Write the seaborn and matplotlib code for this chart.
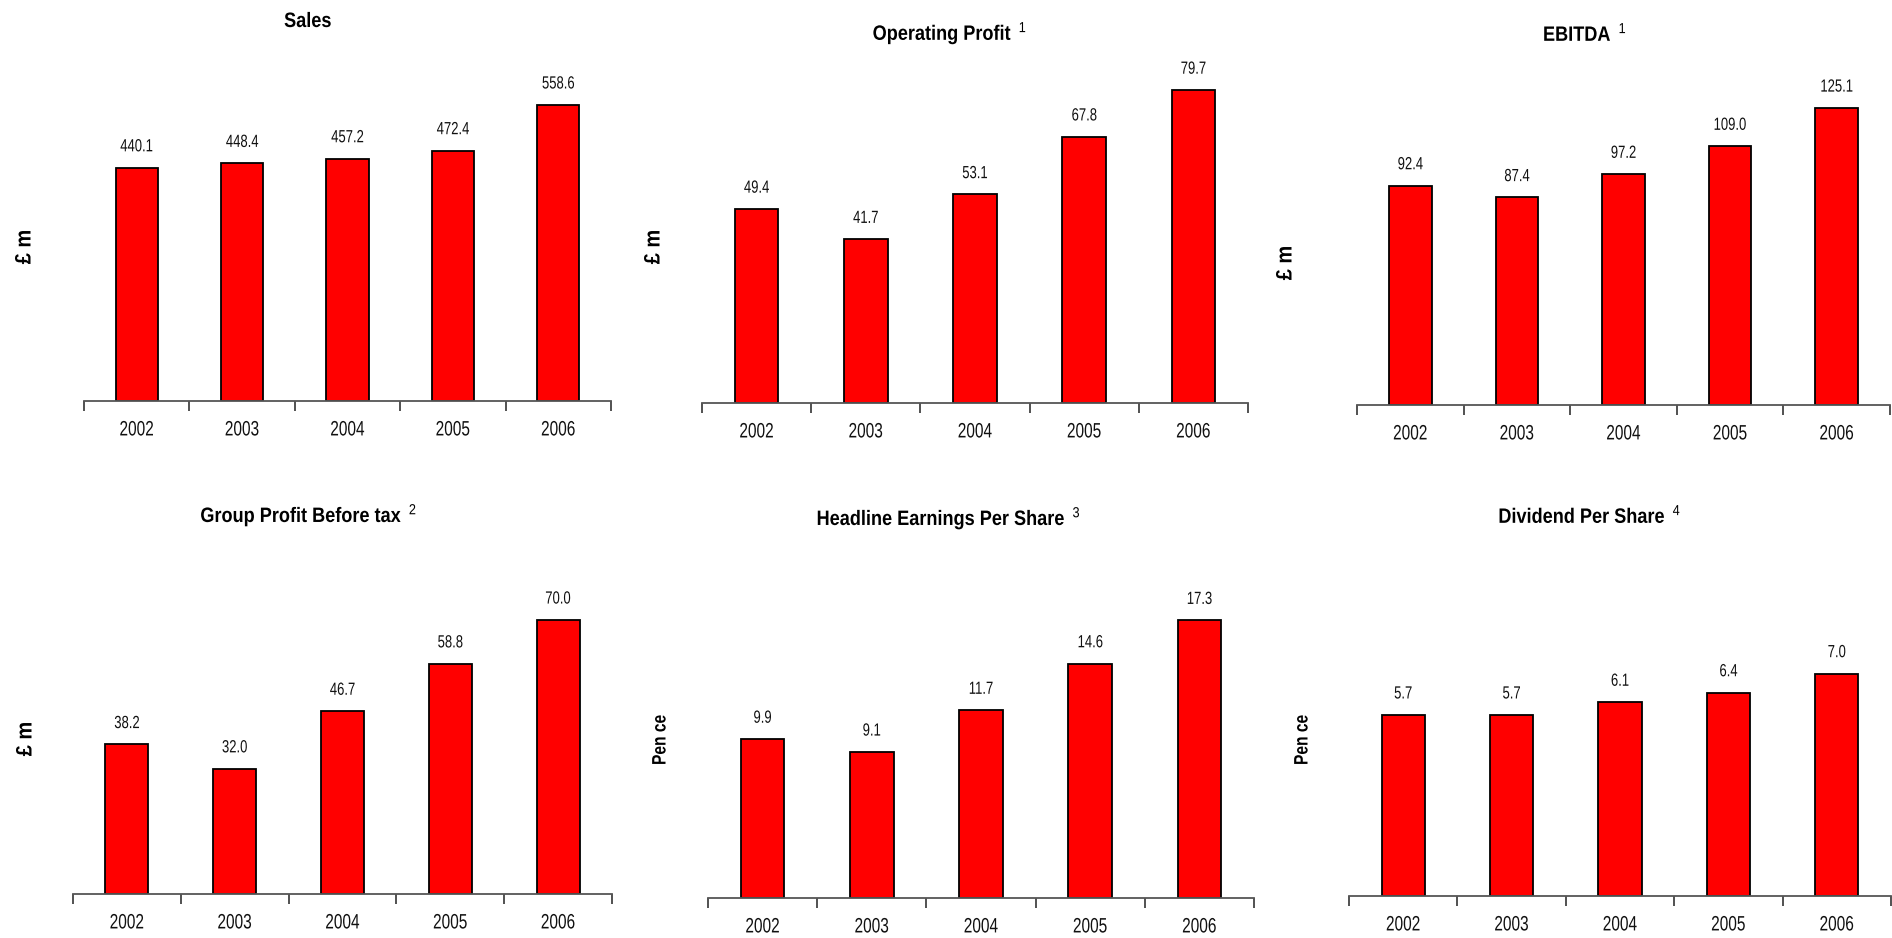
import numpy as np
import matplotlib
matplotlib.use("Agg")
import matplotlib.pyplot as plt
import matplotlib.patheffects as pe
from matplotlib.transforms import Affine2D
import seaborn as sns

# ---- data -------------------------------------------------------------
years = ["2002", "2003", "2004", "2005", "2006"]

sales = [440.1, 448.4, 457.2, 472.4, 558.6]
operating_profit = [49.4, 41.7, 53.1, 67.8, 79.7]
ebitda = [92.4, 87.4, 97.2, 109.0, 125.1]
group_pbt = [38.2, 32.0, 46.7, 58.8, 70.0]
headline_eps = [9.9, 9.1, 11.7, 14.6, 17.3]
dividend_ps = [5.7, 5.7, 6.1, 6.4, 7.0]

titles = ["Sales", "Operating Profit", "EBITDA",
          "Group Profit Before tax", "Headline Earnings Per Share",
          "Dividend Per Share"]
footnotes = ["", "1", "1", "2", "3", "4"]
units = ["£ m", "£ m", "£ m", "£ m", "Pen ce", "Pen ce"]
series = [sales, operating_profit, ebitda, group_pbt, headline_eps, dividend_ps]

# ---- layout (pixels on a 1892 x 938 canvas) ---------------------------
W, H = 1892, 938
# x-left, x-right, baseline y, top y
axes_px = [(84, 611, 401, 50), (702, 1248, 403, 50), (1357, 1890, 405, 50),
           (73, 612, 894, 540), (708, 1254, 898, 540), (1349, 1891, 896, 540)]
y_tops = [662, 89.9, 149.5, 90.4, 22.3, 11.2]
# title centre x, title baseline y
title_px = [(308, 27), (950, 40), (1585, 41), (309, 522), (949, 525), (1590, 523)]
ylabel_px = [(25, 247), (654, 247), (1286, 263), (26, 739), (661, 740), (1303, 740)]
unit_size = {"£ m": (16, 0.9), "Pen ce": (14, 0.8)}


class Condensed(pe.AbstractPathEffect):
    """Draws text glyphs squeezed horizontally about their own centre."""

    def __init__(self, sx=0.75):
        super().__init__()
        self.sx = sx

    def draw_path(self, renderer, gc, tpath, affine, rgbFace=None):
        ext = tpath.get_extents()
        cx = 0.5 * (ext.x0 + ext.x1)
        squeeze = Affine2D().translate(-cx, 0).scale(self.sx, 1.0).translate(cx, 0)
        renderer.draw_path(gc, tpath, squeeze + affine, rgbFace)


sns.set_theme(style="white")
plt.rcParams["font.family"] = ["Liberation Sans", "DejaVu Sans"]
plt.rcParams["mathtext.default"] = "regular"
plt.rcParams["mathtext.fontset"] = "custom"
plt.rcParams["mathtext.rm"] = "Liberation Sans"

fig = plt.figure(figsize=(W / 100, H / 100), dpi=100)
fig.patch.set_facecolor("white")

for i, vals in enumerate(series):
    x0, x1, yb, yt = axes_px[i]
    ax = fig.add_axes([x0 / W, 1 - yb / H, (x1 - x0) / W, (yb - yt) / H])
    sns.barplot(x=years, y=vals, ax=ax, color="#ff0000", saturation=1,
                edgecolor="black", linewidth=1.3, width=0.4)
    ax.set_xlim(-0.5, 4.5)
    ax.set_ylim(0, y_tops[i])
    ax.set_facecolor("white")
    for s in ("left", "right", "top"):
        ax.spines[s].set_visible(False)
    ax.spines["bottom"].set_color("#555555")
    ax.spines["bottom"].set_linewidth(1.3)
    ax.set_yticks([])
    ax.set_ylabel("")
    ax.set_xlabel("")
    ax.set_xticks(range(len(years)))
    ax.set_xticklabels(years, fontsize=15, color="#111111")
    for lab in ax.get_xticklabels():
        lab.set_path_effects([Condensed(0.74)])
    ax.tick_params(axis="x", which="major", length=0, pad=14)
    ax.set_xticks(np.arange(-0.5, len(years), 1.0), minor=True)
    ax.tick_params(axis="x", which="minor", bottom=True, length=7, width=1.2,
                   color="#333333", direction="out")
    ax.grid(False)

    for xi, v in enumerate(vals):
        ax.annotate(f"{v:.1f}", xy=(xi, v), xytext=(0, 15),
                    textcoords="offset points", ha="center", va="center",
                    fontsize=12.7, color="#111111",
                    path_effects=[Condensed(0.74)])

    # chart title with its footnote marker as a superscript
    note = footnotes[i]
    label = titles[i] + (r" $\,^{\mathrm{%s}}$" % note if note else "")
    tx, ty = title_px[i]
    fig.text(tx / W, 1 - ty / H, label, ha="center", va="baseline",
             fontsize=15, fontweight="bold", color="black",
             path_effects=[Condensed(0.87)])

    lx, ly = ylabel_px[i]
    fs, sx = unit_size[units[i]]
    fig.text(lx / W, 1 - ly / H, units[i], ha="center", va="center",
             rotation=90, fontsize=fs, fontweight="bold", color="black",
             path_effects=[Condensed(sx)])

fig.savefig("out.png", dpi=100, facecolor="white")
